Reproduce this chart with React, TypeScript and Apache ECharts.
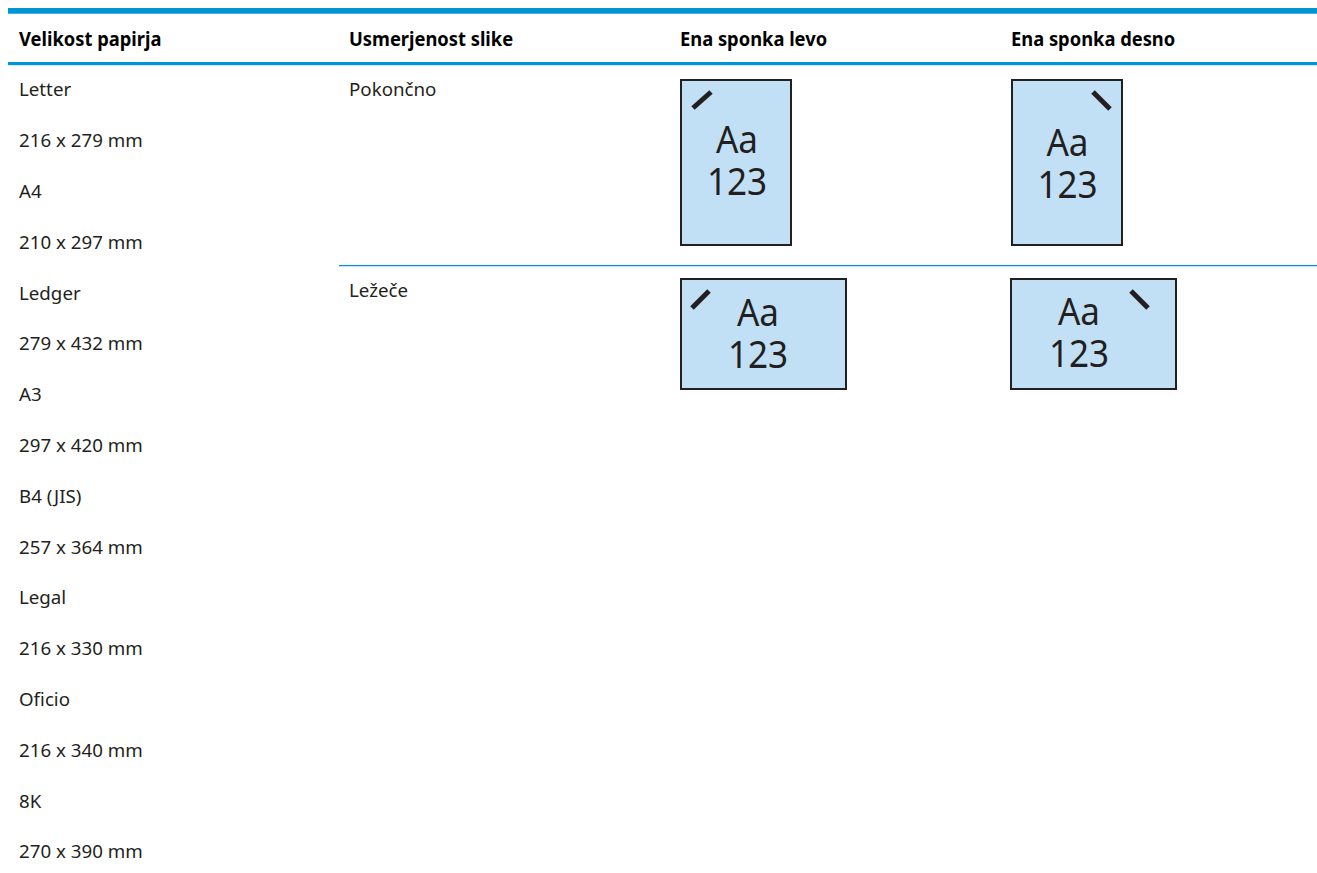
import React, { useEffect, useRef } from "react";
import * as echarts from "echarts";

const headers = ["Velikost papirja", "Usmerjenost slike", "Ena sponka levo", "Ena sponka desno"];
const paperRows = [
  "Letter", "216 x 279 mm", "A4", "210 x 297 mm", "Ledger", "279 x 432 mm", "A3", "297 x 420 mm",
  "B4 (JIS)", "257 x 364 mm", "Legal", "216 x 330 mm", "Oficio", "216 x 340 mm", "8K", "270 x 390 mm",
];
const orientations = ["Pokončno", "Ležeče"];
const sampleText = "Aa\n123";

const BLUE = "#0096d6";
const INK = "#231f20";
const FILL = "#c2e0f5";
const FONT = "'Noto Sans', sans-serif";

function page(x: number, y: number, w: number, h: number, tx: number, ty: number, staple: number[]) {
  return [
    { type: "rect", shape: { x, y, width: w, height: h }, style: { fill: FILL, stroke: INK, lineWidth: 2 } },
    { type: "line", shape: { x1: staple[0], y1: staple[1], x2: staple[2], y2: staple[3] }, style: { stroke: INK, lineWidth: 5 } },
    { type: "text", x: tx, y: ty, scaleX: 0.9, style: { text: sampleText, fill: INK, font: `39px ${FONT}`, lineHeight: 42.5, align: "center", verticalAlign: "middle" } },
  ];
}

export default function App() {
  const ref = useRef<HTMLDivElement>(null);
  useEffect(() => {
    const chart = echarts.init(ref.current!, undefined, { renderer: "svg" });
    const colX = [19, 349, 680, 1011];
    const elements: any[] = [
      { type: "rect", shape: { x: 8, y: 8, width: 1309, height: 5.7 }, style: { fill: BLUE } },
      { type: "rect", shape: { x: 8, y: 62, width: 1309, height: 3 }, style: { fill: BLUE } },
      { type: "rect", shape: { x: 8, y: 65, width: 1309, height: 1 }, style: { fill: "#cfeaf7" } },
      { type: "rect", shape: { x: 339, y: 265, width: 978, height: 1.3 }, style: { fill: BLUE } },
    ];
    headers.forEach((t, i) =>
      elements.push({ type: "text", x: colX[i], y: 38, scaleX: 0.965, style: { text: t, fill: "#000", font: `bold 19px ${FONT}`, verticalAlign: "middle" } })
    );
    paperRows.forEach((t, i) =>
      elements.push({ type: "text", x: colX[0], y: 89 + i * 50.8, scaleX: 1.04, style: { text: t, fill: INK, font: `18px ${FONT}`, verticalAlign: "middle" } })
    );
    orientations.forEach((t, i) =>
      elements.push({ type: "text", x: colX[1], y: [89, 290][i], scaleX: 1.04, style: { text: t, fill: INK, font: `18px ${FONT}`, verticalAlign: "middle" } })
    );
    elements.push(...page(681, 80, 110, 165, 737, 158.5, [693, 108, 711, 92]));
    elements.push(...page(1012, 80, 110, 165, 1067.5, 162, [1110, 109, 1093, 92]));
    elements.push(...page(681, 279, 165, 110, 758, 331.5, [692, 308, 709, 291]));
    elements.push(...page(1011, 279, 165, 110, 1079, 330.5, [1148, 308, 1131, 291]));
    chart.setOption({ animation: false, graphic: { elements } });
    return () => chart.dispose();
  }, []);
  return <div ref={ref} style={{ position: "absolute", left: 0, top: 0, width: 1317, height: 873, background: "#fff" }} />;
}
